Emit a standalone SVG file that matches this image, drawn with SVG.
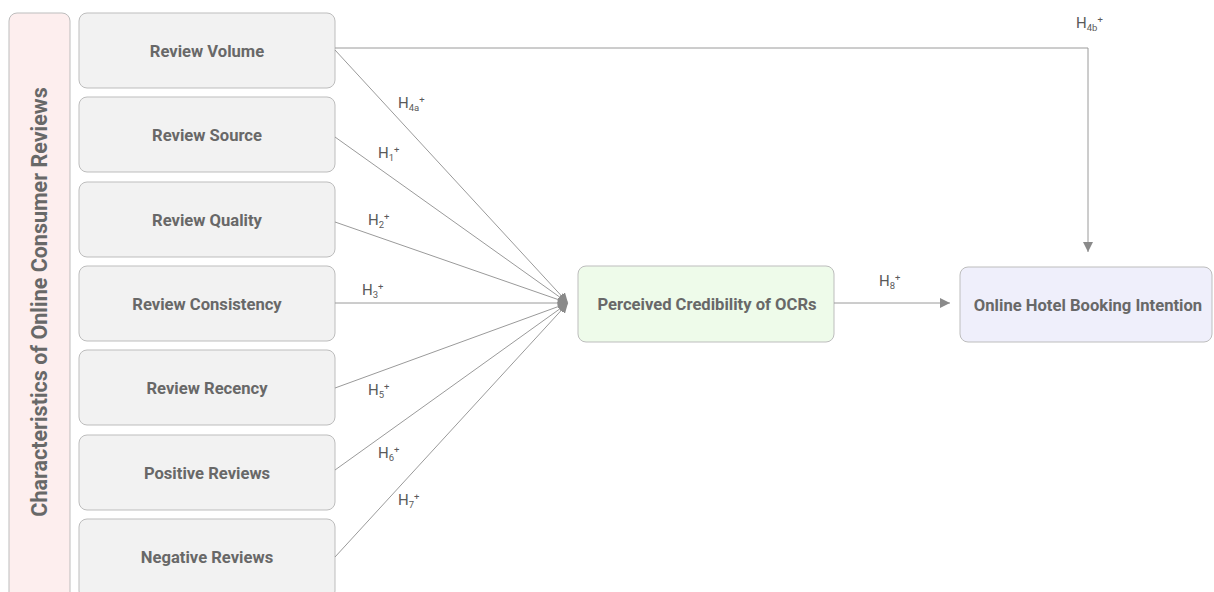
<svg xmlns="http://www.w3.org/2000/svg" width="1214" height="592" viewBox="0 0 1214 592">
<defs>
<style>
.box{fill:#f2f2f2;stroke:#bdbdbd;stroke-width:1}
.t{font-family:Roboto,"Liberation Sans",sans-serif;font-weight:bold;font-size:16.6px;fill:#686868;text-anchor:middle}
.lab{font-family:Roboto,"Liberation Sans",sans-serif;font-size:15px;fill:#5a5a5a}
.sub{font-size:9.5px}
.ln{stroke:#9a9a9a;stroke-width:1;fill:none}
</style>
<marker id="ah" viewBox="0 0 10 10" refX="10" refY="5" markerWidth="10" markerHeight="10" markerUnits="userSpaceOnUse" orient="auto">
<path d="M0,0 L10,5 L0,10 z" fill="#8a8a8a"/>
</marker>
</defs>
<rect width="1214" height="592" fill="#ffffff"/>
<g id="group-characteristics">
<rect x="9" y="13" width="61" height="590" rx="8" fill="#fdeeee" stroke="#bdbdbd"/>
<text class="t" style="font-size:21.5px" transform="translate(47,302) rotate(-90)">Characteristics of Online Consumer Reviews</text>
</g>
<g id="node-volume"><rect class="box" x="79" y="13" width="256" height="75" rx="8"/><text class="t" x="207" y="57">Review Volume</text></g>
<g id="node-source"><rect class="box" x="79" y="97" width="256" height="75" rx="8"/><text class="t" x="207" y="141">Review Source</text></g>
<g id="node-quality"><rect class="box" x="79" y="182" width="256" height="75" rx="8"/><text class="t" x="207" y="226">Review Quality</text></g>
<g id="node-consistency"><rect class="box" x="79" y="266" width="256" height="75" rx="8"/><text class="t" x="207" y="310">Review Consistency</text></g>
<g id="node-recency"><rect class="box" x="79" y="350" width="256" height="75" rx="8"/><text class="t" x="207" y="394">Review Recency</text></g>
<g id="node-positive"><rect class="box" x="79" y="435" width="256" height="75" rx="8"/><text class="t" x="207" y="479">Positive Reviews</text></g>
<g id="node-negative"><rect class="box" x="79" y="519" width="256" height="80" rx="8"/><text class="t" x="207" y="563">Negative Reviews</text></g>
<g id="node-credibility"><rect x="578" y="266" width="256" height="76" rx="8" fill="#eefbea" stroke="#bdbdbd"/><text class="t" x="707" y="310">Perceived Credibility of OCRs</text></g>
<g id="node-intention"><rect x="960" y="267" width="252" height="75" rx="8" fill="#efeffb" stroke="#bdbdbd"/><text class="t" x="1088" y="311">Online Hotel Booking Intention</text></g>
<g id="connectors">
<line class="ln" x1="335" y1="50" x2="568" y2="303" marker-end="url(#ah)"/>
<line class="ln" x1="335" y1="137" x2="568" y2="303" marker-end="url(#ah)"/>
<line class="ln" x1="335" y1="222" x2="568" y2="303" marker-end="url(#ah)"/>
<line class="ln" x1="335" y1="303" x2="568" y2="303" marker-end="url(#ah)"/>
<line class="ln" x1="335" y1="388" x2="568" y2="303" marker-end="url(#ah)"/>
<line class="ln" x1="335" y1="470" x2="568" y2="303" marker-end="url(#ah)"/>
<line class="ln" x1="335" y1="557" x2="568" y2="303" marker-end="url(#ah)"/>
<line class="ln" x1="834" y1="303" x2="950" y2="303" marker-end="url(#ah)"/>
<polyline class="ln" points="335,48 1088,48 1088,252" marker-end="url(#ah)"/>
<text class="lab" x="398" y="108">H<tspan class="sub" dy="3">4a</tspan><tspan class="sub" dy="-8">+</tspan></text>
<text class="lab" x="378" y="158">H<tspan class="sub" dy="3">1</tspan><tspan class="sub" dy="-8">+</tspan></text>
<text class="lab" x="368" y="225">H<tspan class="sub" dy="3">2</tspan><tspan class="sub" dy="-8">+</tspan></text>
<text class="lab" x="362" y="295">H<tspan class="sub" dy="3">3</tspan><tspan class="sub" dy="-8">+</tspan></text>
<text class="lab" x="368" y="395">H<tspan class="sub" dy="3">5</tspan><tspan class="sub" dy="-8">+</tspan></text>
<text class="lab" x="378" y="458">H<tspan class="sub" dy="3">6</tspan><tspan class="sub" dy="-8">+</tspan></text>
<text class="lab" x="398" y="505">H<tspan class="sub" dy="3">7</tspan><tspan class="sub" dy="-8">+</tspan></text>
<text class="lab" x="879" y="286">H<tspan class="sub" dy="3">8</tspan><tspan class="sub" dy="-8">+</tspan></text>
<text class="lab" x="1076" y="28">H<tspan class="sub" dy="3">4b</tspan><tspan class="sub" dy="-8">+</tspan></text>
</g>
</svg>
